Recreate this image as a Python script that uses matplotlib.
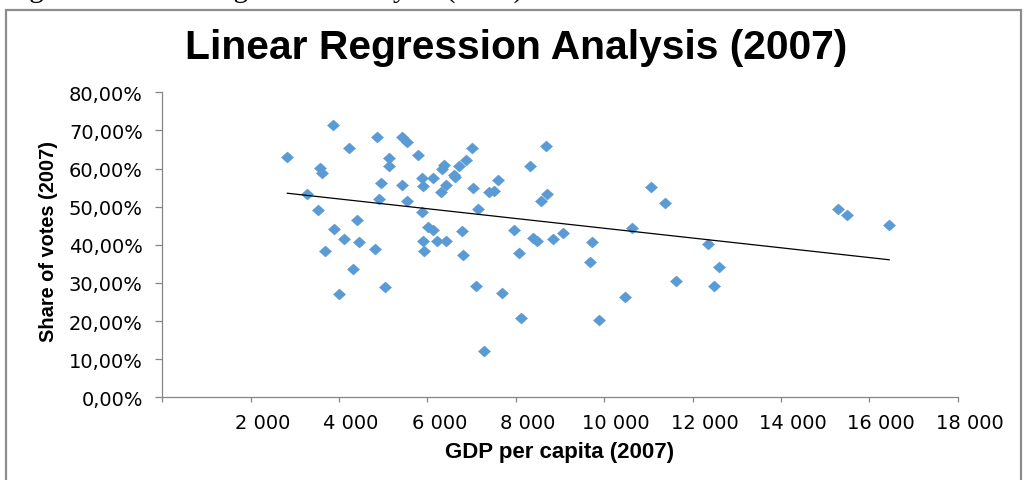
import numpy as np
import matplotlib
matplotlib.use("Agg")
import matplotlib.pyplot as plt
import matplotlib.transforms as mtrans
from matplotlib.path import Path
from matplotlib.patches import Rectangle

# ---------------- data ----------------
gdp = [2830, 3870, 4860, 4220, 5430, 5530, 5130, 5130, 5790, 3580,
       3620, 3270, 4960, 5430, 5870, 5890, 6120, 6320, 6380, 6410,
       6310, 4900, 5530, 3520, 5870, 4400, 3890, 6020, 6130, 4110,
       4460, 5890, 6210, 6410, 3680, 4820, 5920, 4320, 5050, 3990,
       7000, 8680, 6710, 6870, 6590, 6620, 8320, 7590, 7020, 7400,
       7510, 11050, 11380, 8710, 8570, 7140, 10640, 6780, 7960, 8380,
       8470, 8850, 9060, 9720, 12360, 6800, 8070, 9690, 7110, 7680,
       8110, 7270, 9890, 10480, 11630, 12480, 12600, 15280, 15490, 16450]
share = [63.0, 71.3, 68.4, 65.4, 68.2, 66.9, 62.7, 60.8, 63.6, 60.1,
         58.8, 53.2, 56.2, 55.7, 57.6, 55.5, 57.5, 59.9, 61.0, 55.7,
         53.8, 52.0, 51.6, 49.0, 48.7, 46.6, 44.2, 44.6, 44.0, 41.4,
         40.8, 40.9, 41.1, 41.1, 38.5, 38.9, 38.5, 33.7, 29.0, 27.0,
         65.4, 65.9, 60.8, 62.3, 58.2, 57.7, 60.8, 56.9, 54.9, 53.8,
         54.2, 55.1, 51.0, 53.2, 51.4, 49.4, 44.4, 43.5, 44.0, 41.7,
         40.9, 41.4, 43.1, 40.7, 40.2, 37.2, 37.9, 35.6, 29.3, 27.3,
         20.7, 12.2, 20.3, 26.4, 30.6, 29.3, 34.3, 49.4, 47.7, 45.2]

x_ticks = [0, 2000, 4000, 6000, 8000, 10000, 12000, 14000, 16000, 18000]
x_tick_labels = ["", "2 000", "4 000", "6 000", "8 000", "10 000",
                 "12 000", "14 000", "16 000", "18 000"]
y_ticks = [0, 10, 20, 30, 40, 50, 60, 70, 80]
y_tick_labels = ["0,00%", "10,00%", "20,00%", "30,00%", "40,00%",
                 "50,00%", "60,00%", "70,00%", "80,00%"]

title = "Linear Regression Analysis (2007)"
x_label = "GDP per capita (2007)"
y_label = "Share of votes (2007)"
caption = "Figure 4: Linear Regression Analysis (2007)"

# ---------------- figure ----------------
W, H = 1027, 481
fig = plt.figure(figsize=(W / 100, H / 100), dpi=100)
fig.patch.set_facecolor("white")

# outer chart frame (bottom edge runs off the picture)
frame = Rectangle((5.5 / W, 1 - 490 / H), (1020.5 - 5.5) / W, (490 - 11) / H,
                  transform=fig.transFigure, fill=False,
                  edgecolor="#8c8c8c", linewidth=1.6)
fig.patches.append(frame)

# caption of the page, mostly above the picture edge
fig.text(5 / W, 1 + 3 / H, caption, family="Liberation Serif", fontsize=21,
         ha="left", va="baseline")

ax_l, ax_r, ax_t, ax_b = 162.3, 957.7, 93.3, 398.3
ax = fig.add_axes([ax_l / W, 1 - ax_b / H, (ax_r - ax_l) / W, (ax_b - ax_t) / H])

diamond = Path([(0, 1), (1.1, 0), (0, -1), (-1.1, 0), (0, 1)],
               [Path.MOVETO, Path.LINETO, Path.LINETO, Path.LINETO, Path.CLOSEPOLY])
ax.plot(gdp, share, linestyle="none", marker=diamond, markersize=8.8,
        color="#5B9BD5", markeredgecolor="#5B9BD5", markeredgewidth=0.3, zorder=2)

slope, intercept = np.polyfit(gdp, share, 1)
xs = np.array([min(gdp), max(gdp)])
ax.plot(xs, slope * xs + intercept, color="black", linewidth=0.9, zorder=3)

ax.set_xlim(0, 18000)
ax.set_ylim(0, 80)
for s in ("top", "right"):
    ax.spines[s].set_visible(False)
for s in ("left", "bottom"):
    ax.spines[s].set_color("#868686")
    ax.spines[s].set_linewidth(0.9)

ax.set_xticks(x_ticks)
ax.set_xticklabels(x_tick_labels)
ax.set_yticks(y_ticks)
ax.set_yticklabels(y_tick_labels)
ax.tick_params(axis="y", direction="out", length=5.2, width=0.9, color="#868686",
               pad=8.8, labelsize=14)
ax.tick_params(axis="x", direction="out", length=3.8, width=0.9, color="#868686",
               pad=7.5, labelsize=14)
for lab in ax.get_xticklabels() + ax.get_yticklabels():
    lab.set_family("DejaVu Sans")
offset = mtrans.ScaledTranslation(12 / 100, 0, fig.dpi_scale_trans)
for lab in ax.get_xticklabels():
    lab.set_transform(lab.get_transform() + offset)

fig.text(516 / W, 1 - 48 / H, title, family="Liberation Sans", weight="bold",
         fontsize=29.3, ha="center", va="center")
fig.text(560 / W, 1 - 453 / H, x_label, family="Liberation Sans", weight="bold",
         fontsize=16, ha="center", va="center")
fig.text(49 / W, 1 - 241.5 / H, y_label, family="Liberation Sans", weight="bold",
         fontsize=14.4, ha="center", va="center", rotation=90)

fig.savefig("out.png", dpi=100)
